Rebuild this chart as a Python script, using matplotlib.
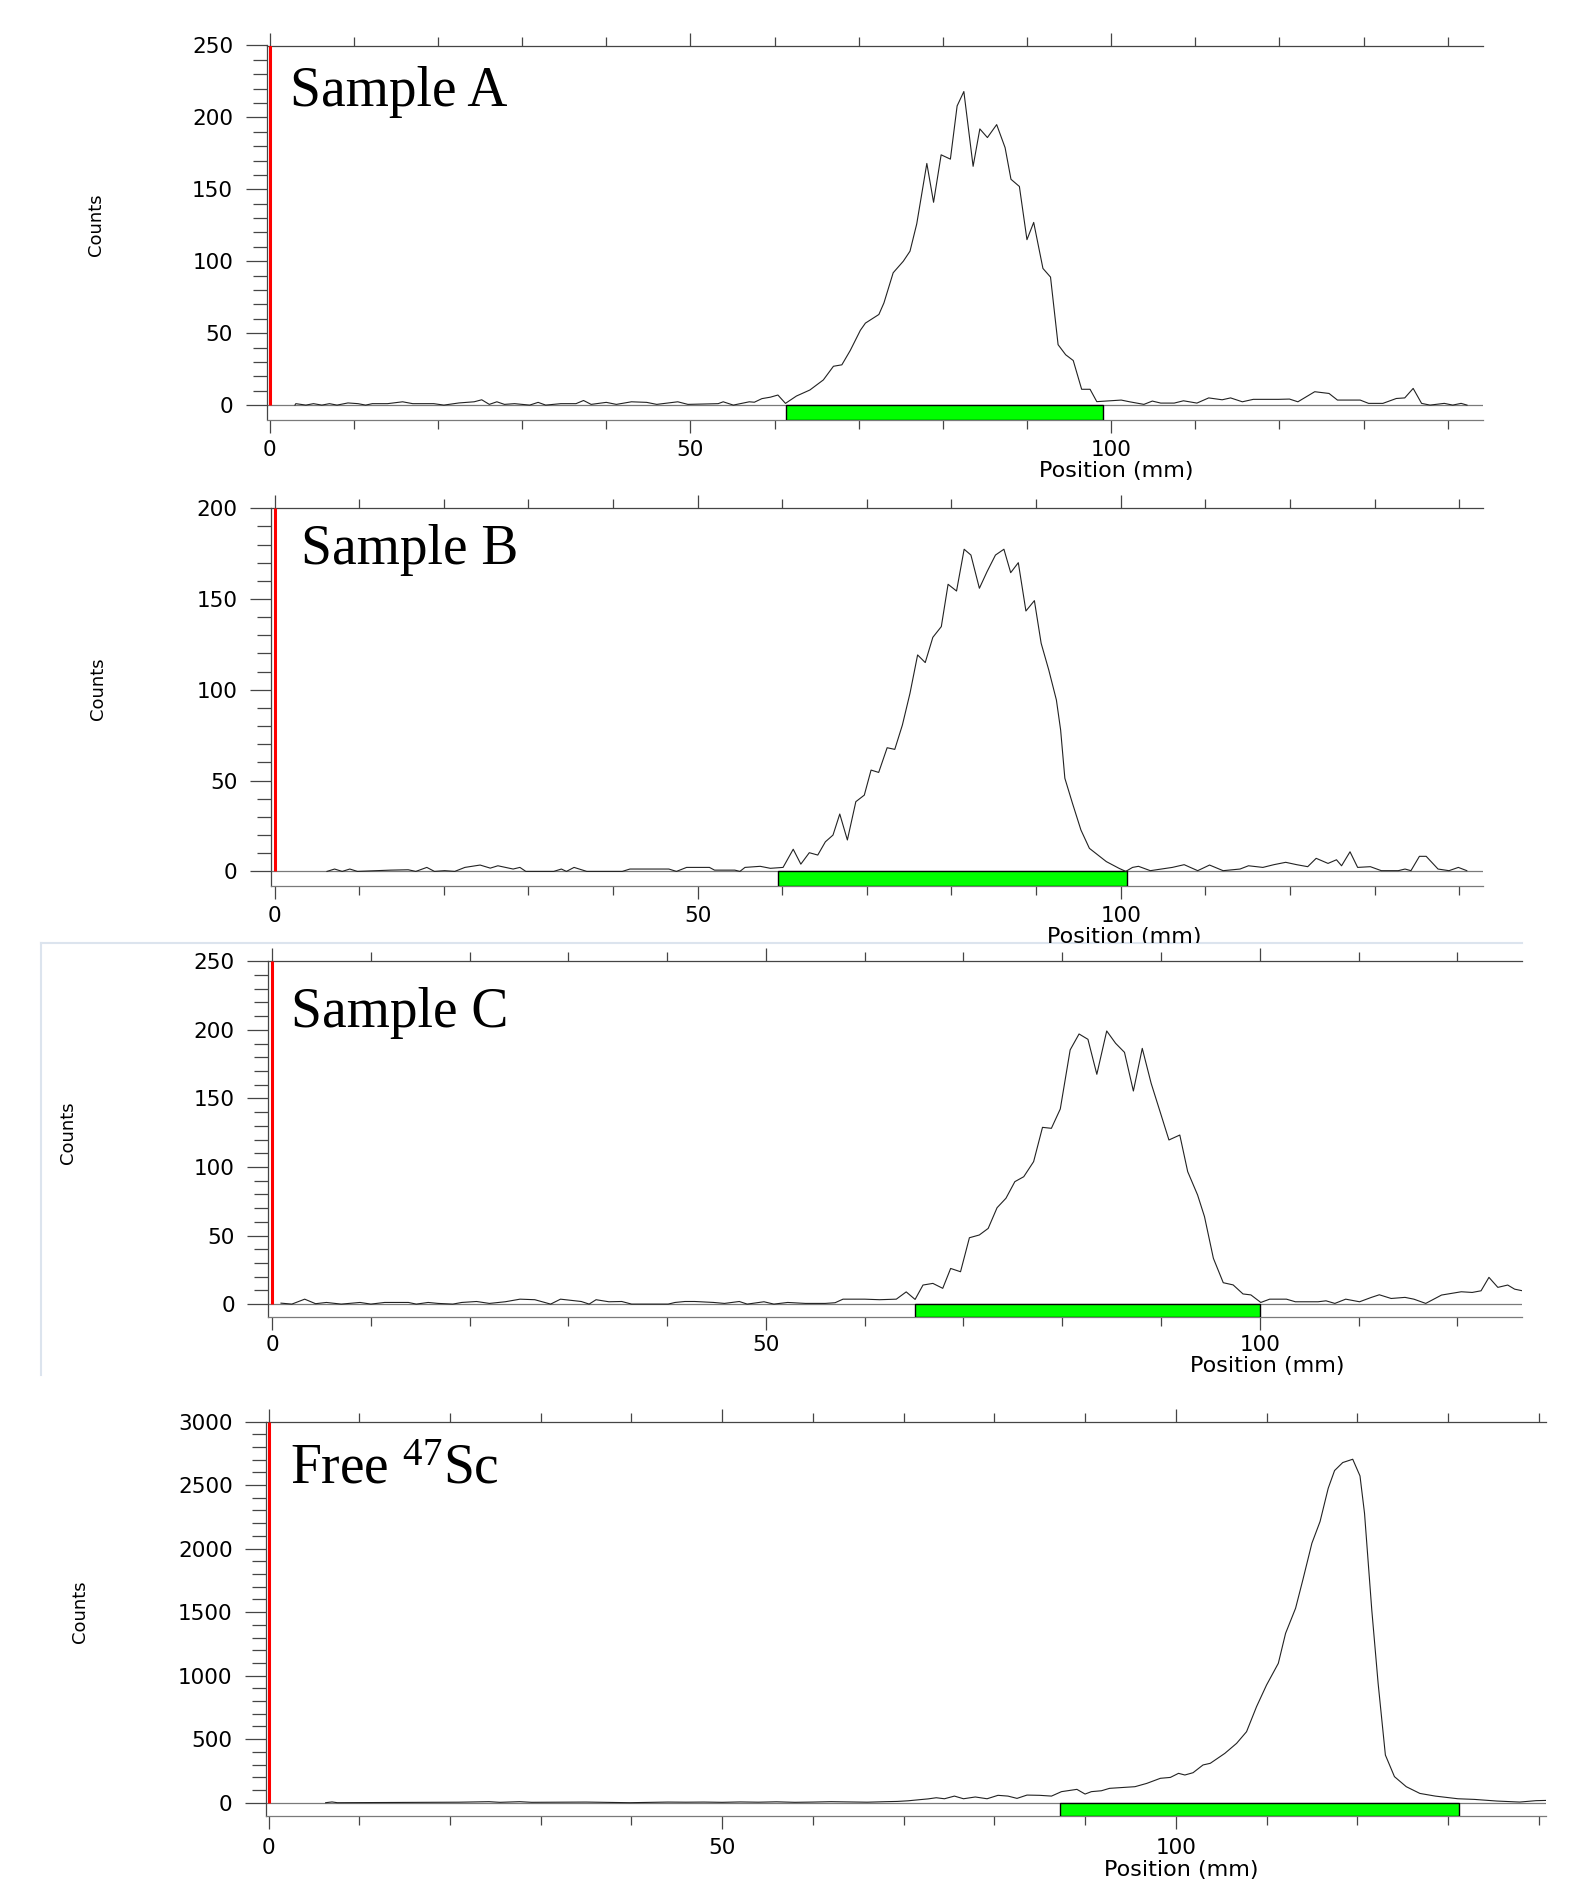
import numpy as np
import matplotlib.pyplot as plt
from matplotlib import font_manager
from matplotlib.patches import Rectangle
from matplotlib.lines import Line2D
from matplotlib.ticker import FixedLocator
from matplotlib.transforms import Bbox, TransformedBbox

# --- scan data: position (mm) and counts ---
pos_a = [3.0, 3.1, 4.3, 5.2, 6.2, 7.1, 8.0, 9.3, 10.5, 11.4,
         12.2, 14.0, 15.8, 17.0, 19.5, 20.7, 22.5, 24.3, 25.2, 26.1,
         27.0, 27.9, 29.1, 30.9, 31.9, 32.8, 34.6, 36.4, 37.3, 38.2,
         40.0, 41.2, 43.0, 44.8, 46.0, 48.5, 49.7, 53.3, 53.9, 55.1,
         57.0, 57.6, 58.5, 59.5, 60.4, 61.3, 62.6, 64.2, 65.8, 67.0,
         68.0, 69.0, 70.2, 70.8, 72.4, 73.0, 74.1, 75.3, 76.1, 76.9,
         78.1, 78.9, 79.8, 80.9, 81.7, 82.5, 83.6, 84.4, 85.3, 86.4,
         87.4, 88.1, 89.1, 90.0, 90.8, 91.9, 92.8, 93.7, 94.6, 95.5,
         96.5, 97.5, 98.3, 101.2, 102.2, 103.9, 104.9, 105.9, 107.5, 108.6,
         110.2, 111.6, 113.2, 114.2, 115.6, 116.9, 119.9, 121.2, 122.2, 124.2,
         125.9, 126.9, 129.6, 130.6, 132.3, 133.9, 134.9, 135.9, 136.9, 137.9,
         139.6, 140.6, 141.6, 142.3]
cnt_a = [0, 1, 0, 1, 0, 1, 0, 1.5, 1, 0,
         1, 1, 2.3, 1, 1, 0, 1.5, 2.3, 3.7, 0.5,
         2.3, 0.5, 1, 0, 1.9, 0, 1, 1, 3.2, 0.5,
         1.9, 0.5, 2.3, 1.9, 0.5, 2.3, 0.5, 1, 2.3, 0,
         2.3, 2, 4.5, 5.5, 7, 1.2, 6.3, 10.5, 17.5, 27,
         28, 38, 52, 57, 63, 71, 92, 100, 107, 126,
         168, 141, 174, 171, 208, 218, 166, 192, 186, 195,
         179, 157, 152, 115, 127, 95, 89, 42, 35, 31,
         11, 11, 2.4, 3.5, 2.3, 0.5, 2.8, 1.4, 1.4, 3,
         1.4, 5, 3.7, 5, 2.3, 4, 4, 4.2, 2.3, 9.3,
         8.1, 3.5, 3.5, 1.2, 1.2, 4.6, 5, 11.6, 1.2, 0,
         1.2, 0, 1.2, 0]

pos_b = [6.2, 7.1, 8.0, 8.9, 9.8, 13.7, 15.8, 16.7, 18.0, 18.9,
         20.1, 21.3, 22.5, 24.3, 25.5, 26.4, 28.2, 29.0, 29.7, 33.0,
         33.9, 34.5, 35.4, 36.9, 41.1, 42.0, 46.6, 47.5, 48.7, 51.4,
         52.0, 54.4, 55.0, 55.6, 57.4, 58.6, 60.1, 61.3, 62.2, 63.2,
         64.2, 65.1, 66.0, 66.8, 67.7, 68.7, 69.7, 70.5, 71.4, 72.4,
         73.3, 74.2, 75.1, 76.0, 76.9, 77.8, 78.8, 79.6, 80.6, 81.5,
         82.3, 83.3, 84.2, 85.2, 86.2, 87.0, 87.9, 88.8, 89.8, 90.6,
         91.5, 92.4, 92.9, 93.4, 94.3, 95.3, 96.3, 98.3, 99.8, 100.6,
         101.4, 102.1, 103.5, 104.8, 106.1, 107.5, 109.1, 110.5, 112.1, 114.1,
         115.1, 116.8, 118.1, 119.5, 120.8, 122.1, 123.1, 124.5, 125.5, 126.1,
         127.1, 128.0, 129.5, 130.8, 132.8, 133.6, 134.3, 135.3, 136.1, 137.5,
         138.8, 139.9, 140.9]
cnt_b = [0, 1.3, 0, 1.3, 0, 0.7, 0.9, 0, 2.2, 0,
         0.4, 0, 2.2, 3.5, 1.8, 3.1, 1.3, 2.2, 0, 0,
         1.3, 0, 2.2, 0, 0, 1.3, 1.3, 0, 2.2, 2.2,
         0.7, 0.7, 0, 2.2, 2.8, 1.7, 2.2, 12.2, 4.0, 10.3,
         9.0, 16.3, 20.0, 31.6, 17.3, 38.4, 42.0, 55.8, 54.5, 68.1,
         67.2, 80.6, 98.1, 119.2, 115.0, 128.9, 134.8, 158.1, 154.4, 177.4,
         174.2, 155.9, 165.0, 174.2, 177.4, 164.5, 170.0, 143.4, 149.1, 125.6,
         110.9, 94.4, 77.9, 51.3, 37.5, 22.8, 12.7, 5.4, 1.7, 0,
         2.2, 2.8, 0.4, 1.3, 2.2, 3.7, 0.4, 3.5, 0.4, 1.3,
         3.1, 2.2, 3.7, 5.0, 3.7, 2.6, 7.2, 4.4, 6.4, 3.1,
         10.8, 2.2, 2.6, 0.4, 0.4, 1.3, 0.4, 8.3, 8.3, 1.3,
         0.4, 2.2, 0.4]

pos_c = [0.9, 2.0, 3.3, 4.4, 5.5, 7.0, 8.9, 10.0, 11.4, 13.8,
         14.6, 15.8, 16.8, 18.3, 19.2, 20.7, 22.0, 23.6, 25.1, 26.6,
         28.2, 29.2, 31.3, 32.1, 32.8, 34.1, 35.4, 36.4, 40.1, 40.8,
         41.8, 42.8, 44.7, 45.8, 47.3, 48.1, 49.8, 50.8, 52.2, 54.0,
         56.0, 57.0, 57.8, 60.0, 61.5, 63.2, 64.2, 65.1, 65.9, 66.9,
         67.9, 68.7, 69.7, 70.6, 71.6, 72.5, 73.4, 74.3, 75.2, 76.1,
         77.1, 78.0, 78.9, 79.8, 80.8, 81.7, 82.6, 83.5, 84.5, 85.4,
         86.3, 87.2, 88.1, 89.0, 89.9, 90.8, 91.9, 92.7, 93.7, 94.4,
         95.3, 96.3, 97.3, 98.3, 99.1, 100.1, 101.0, 102.7, 103.6, 105.9,
         106.7, 107.6, 108.7, 110.1, 111.3, 112.1, 113.3, 114.7, 115.6, 116.8,
         118.4, 120.4, 121.5, 122.4, 123.2, 124.1, 125.1, 125.8, 126.6]
cnt_c = [0.7, 0, 3.6, 0.3, 1.2, 0, 1.2, 0, 1.2, 1.2,
         0, 1.2, 0.5, 0, 1.2, 1.9, 0.5, 1.7, 3.6, 3.2,
         0, 3.6, 1.9, 0, 3.2, 1.7, 1.9, 0, 0, 1.2,
         1.9, 1.9, 1.2, 0.5, 1.9, 0, 1.7, 0, 1.2, 0.5,
         0.5, 1.0, 3.6, 3.6, 3.2, 3.6, 8.9, 3.4, 13.9, 15.1,
         11.5, 26.0, 23.6, 48.4, 50.4, 55.2, 70.3, 77.2, 89.3, 92.9,
         103.9, 128.9, 128.2, 142.3, 185.4, 197.0, 193.1, 167.6, 199.2, 190.2,
         183.6, 155.4, 186.5, 161.0, 140.4, 119.7, 123.3, 96.6, 79.6, 63.8,
         33.4, 15.6, 14.0, 7.4, 6.7, 1.2, 3.6, 3.6, 1.7, 1.7,
         2.4, 0.5, 3.6, 1.7, 4.9, 6.8, 4.1, 4.9, 3.6, 0.5,
         6.6, 9.0, 8.5, 9.7, 19.5, 12.2, 13.9, 10.9, 9.7]

pos_d = [6.3, 7.0, 7.6, 21.0, 24.3, 25.5, 27.7, 29.0, 35.0, 39.8,
         44.0, 46.0, 48.0, 50.0, 52.0, 54.0, 56.0, 58.0, 60.0, 62.0,
         64.0, 66.0, 68.0, 69.3, 70.5, 71.8, 72.7, 73.6, 74.5, 75.6,
         76.6, 77.9, 79.2, 80.4, 81.5, 82.5, 83.6, 85.0, 86.3, 87.4,
         89.1, 90.0, 90.7, 91.8, 92.7, 95.5, 96.8, 98.3, 99.4, 100.3,
         101.0, 101.9, 103.0, 103.8, 105.4, 106.7, 107.8, 108.9, 110.0, 111.3,
         112.1, 113.2, 114.0, 115.0, 115.9, 116.8, 117.5, 118.4, 119.5, 120.3,
         120.8, 121.6, 122.3, 123.1, 124.1, 125.4, 126.9, 128.6, 131.1, 132.9,
         135.4, 137.9, 139.7, 140.9]
cnt_d = [0, 6, 0, 4, 8, 3, 8, 3, 5, 0,
         5, 4, 5, 3, 6, 4, 7, 3, 5, 8,
         6, 4, 8, 10, 15, 24, 30, 39, 31, 52,
         31, 45, 31, 58, 52, 34, 60, 58, 52, 87,
         105, 68, 87, 94, 113, 126, 152, 192, 199, 231,
         218, 236, 297, 310, 388, 467, 559, 756, 926, 1097,
         1333, 1530, 1753, 2042, 2213, 2475, 2614, 2677, 2703, 2572,
         2278, 1517, 939, 375, 205, 126, 73, 52, 31, 26,
         13, 5, 16, 18]

# integration regions (green bars), mm
roi_a = (61.4, 99.0)
roi_b = (59.5, 100.8)
roi_c = (65.1, 100.0)
roi_d = (87.2, 131.2)

names = ["Sample A", "Sample B", "Sample C", r"Free $^{\mathrm{47}}$Sc"]
y_max = [250, 200, 250, 3000]
y_step = [50, 50, 50, 500]

# --- layout in output pixels: left, right, top(ymax), y=0, strip bottom, x of 0 mm, px per mm
layout = [
    (266.5, 1482.7, 45.5, 405.1, 419.5, 269.7, 8.414),
    (270.9, 1482.7, 508.2, 871.4, 885.8, 274.5, 8.462),
    (268.1, 1522.2, 961.3, 1304.1, 1317.3, 272.1, 9.877),
    (266.0, 1546.2, 1421.5, 1802.7, 1815.9, 268.5, 9.073),
]
tick_label_y = [447.5, 913.7, 1342.8, 1846.2]
counts_xy = [(96, 225), (98, 689), (68, 1133), (80, 1612)]
name_xy = [(290, 106), (301, 564), (291, 1027), (290, 1484)]
poslabel_xy = [(1116, 471), (1124, 937), (1267, 1366), (1181, 1870)]

plt.rcParams['mathtext.fontset'] = 'custom'
plt.rcParams['mathtext.rm'] = 'Liberation Serif'
plt.rcParams['mathtext.it'] = 'Liberation Serif:italic'
plt.rcParams['mathtext.bf'] = 'Liberation Serif:bold'

try:
    font_manager.findfont(font_manager.FontProperties(family='Liberation Sans Narrow'),
                          fallback_to_default=False)
    counts_family, counts_size = 'Liberation Sans Narrow', 16
except ValueError:
    counts_family, counts_size = 'DejaVu Sans', 13

W, H = 1581, 1880
fig = plt.figure(figsize=(W / 100, H / 100), dpi=100)
dark = '#454545'
light = '#7a7a7a'
tick_fs = 15.5


def fy(py):
    return 1 - py / H


def draw_panel(i, pos, cnt, roi):
    left, right, top, y0, bottom, x0, mm_px = layout[i]
    ymax = y_max[i]
    cnt_px = (y0 - top) / ymax
    strip = (bottom - y0) / cnt_px
    xmax = (right - x0) / mm_px

    ax = fig.add_axes([left / W, fy(bottom), (right - left) / W, (bottom - top) / H])
    ax.set_xlim((left - x0) / mm_px, xmax)
    ax.set_ylim(-strip, ymax)
    ax.spines['right'].set_visible(False)
    ax.spines['left'].set_color(dark)
    ax.spines['top'].set_color(dark)
    ax.spines['bottom'].set_color(light)
    for s in ax.spines.values():
        s.set_linewidth(0.9)

    ax.axhline(0, color=light, lw=0.9, zorder=2)
    ax.add_patch(Rectangle((roi[0], -strip), roi[1] - roi[0], strip,
                           facecolor='#00ff00', edgecolor='black', lw=1.0, zorder=3))
    ax.plot(pos, cnt, color='#222222', lw=0.8, zorder=4)
    ax.vlines(0, 0, ymax, color='red', lw=2.2, zorder=5)

    ax.xaxis.set_major_locator(FixedLocator([0, 50, 100]))
    ax.xaxis.set_minor_locator(FixedLocator(np.arange(10, xmax, 10)))
    ax.yaxis.set_major_locator(FixedLocator(np.arange(0, ymax + 1, y_step[i])))
    ax.yaxis.set_minor_locator(FixedLocator(np.arange(0, ymax + 1, y_step[i] / 5)))

    pad_px = tick_label_y[i] - bottom - 13.3 - 7.9
    ax.tick_params(axis='x', which='both', top=True, bottom=True, direction='out',
                   color=dark, width=0.9, labelsize=tick_fs)
    ax.tick_params(axis='x', which='major', length=9.6, pad=pad_px * 0.72)
    ax.tick_params(axis='x', which='minor', length=6.5)
    ax.tick_params(axis='y', which='both', direction='out', color=dark, width=0.9,
                   labelsize=tick_fs)
    ax.tick_params(axis='y', which='major', length=15, pad=9)
    ax.tick_params(axis='y', which='minor', length=10)

    fig.text(name_xy[i][0] / W, fy(name_xy[i][1]), names[i], family='Liberation Serif',
             size=40, ha='left', va='baseline')
    fig.text(counts_xy[i][0] / W, fy(counts_xy[i][1]), 'Counts', rotation=90,
             family=counts_family, size=counts_size, ha='center', va='center')
    t = fig.text(poslabel_xy[i][0] / W, fy(poslabel_xy[i][1]), 'Position (mm)',
                 size=16, ha='center', va='center')
    if i == 1:
        t.set_clip_box(TransformedBbox(Bbox.from_extents(0, fy(943.3), 1, 1), fig.transFigure))
        t.set_clip_on(True)
    return ax


draw_panel(0, pos_a, cnt_a, roi_a)
draw_panel(1, pos_b, cnt_b, roi_b)
draw_panel(2, pos_c, cnt_c, roi_c)
draw_panel(3, pos_d, cnt_d, roi_d)

# faint frame around the third scan (screenshot border)
frame = '#dce4ee'
fig.add_artist(Line2D([40.8 / W, 40.8 / W], [fy(943.3), fy(1374.8)], transform=fig.transFigure,
                      color=frame, lw=1.5))
fig.add_artist(Line2D([40.8 / W, 1522 / W], [fy(943.3), fy(943.3)], transform=fig.transFigure,
                      color=frame, lw=1.5))

fig.savefig('out.png', dpi=100)
